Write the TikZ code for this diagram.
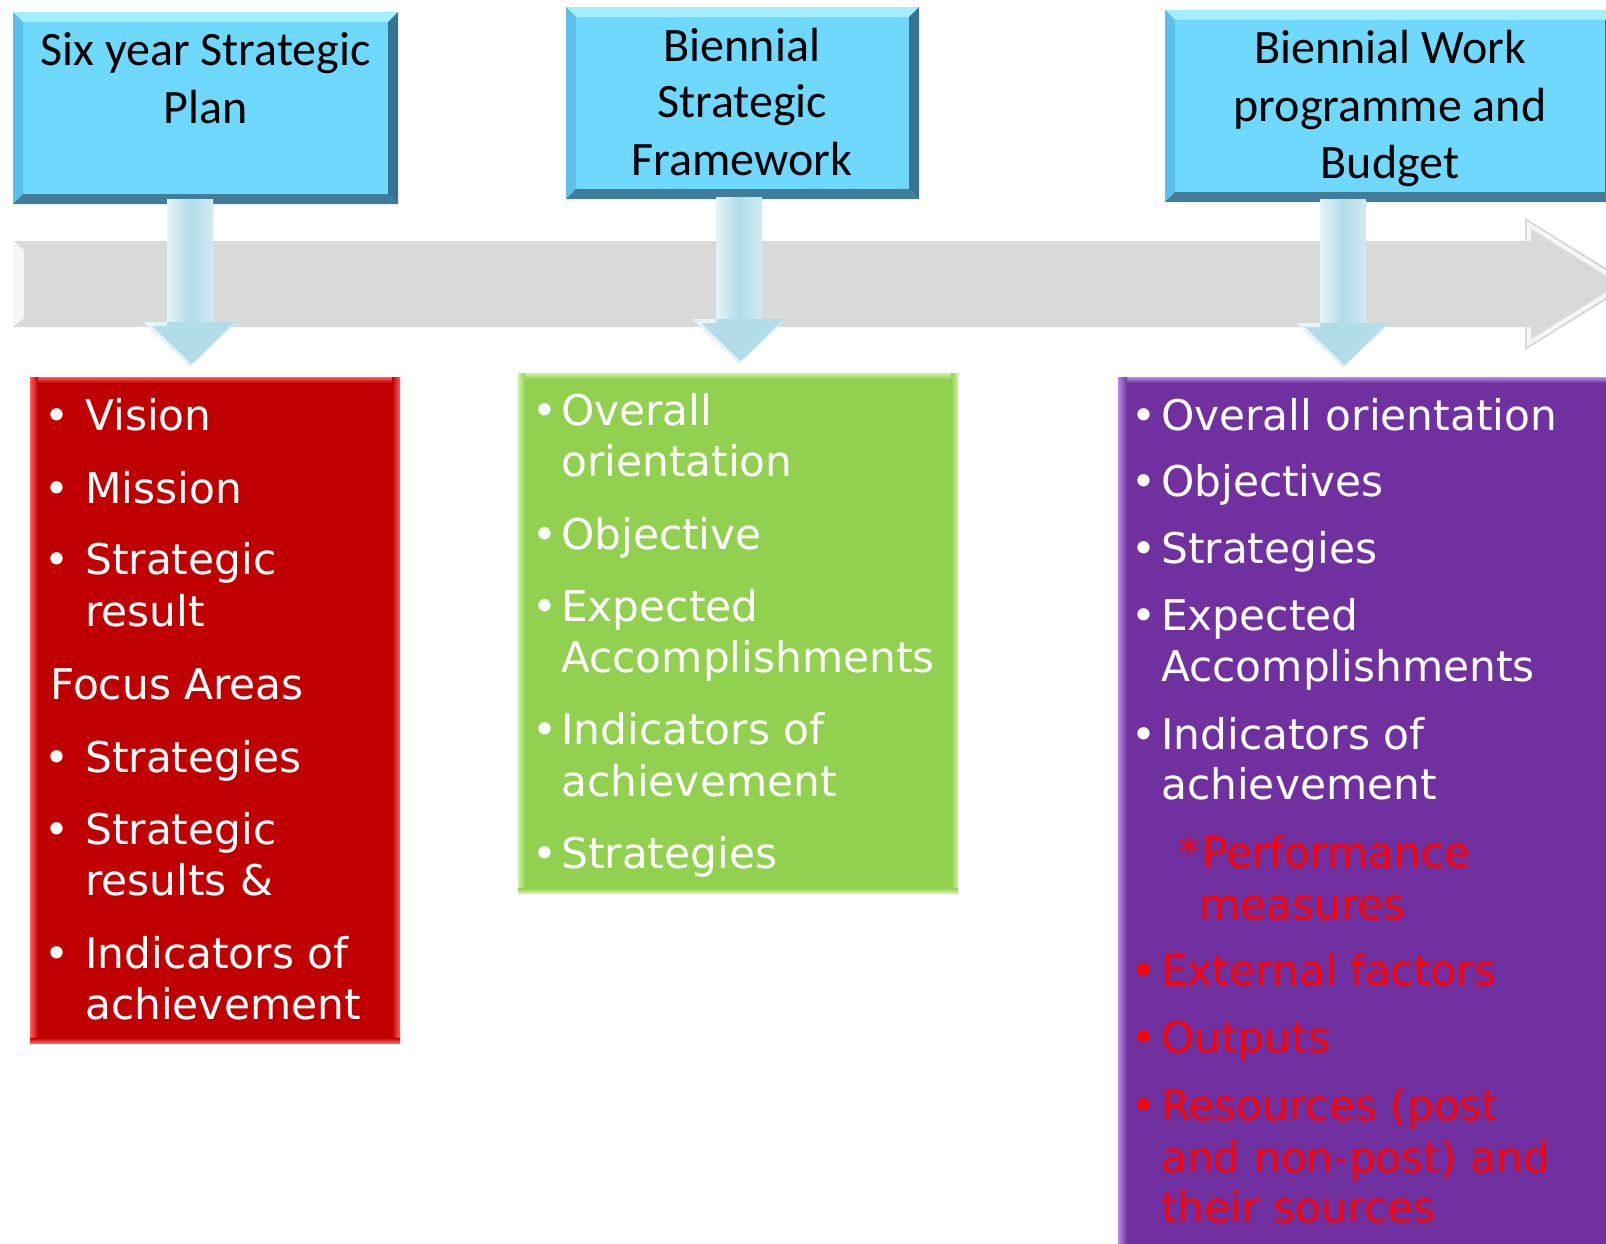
\documentclass[tikz,border=0pt]{standalone}
\usepackage{fontspec}
\newfontfamily\bodyfnt{DejaVu Sans}
\newfontfamily\headfnt{Carlito}
\usetikzlibrary{calc}
\newcommand\bodyset{\bodyfnt\fontsize{42.3}{50}\selectfont}
\newcommand\headset{\headfnt\fontsize{48}{58}\selectfont}
\definecolor{hface}{RGB}{110,216,253}
\definecolor{hbtop}{RGB}{165,238,255}
\definecolor{hbleft}{RGB}{92,192,232}
\definecolor{hbright}{RGB}{55,115,145}
\definecolor{hbbot}{RGB}{65,125,155}
\definecolor{grayarr}{RGB}{217,217,217}
\definecolor{grayhi}{RGB}{246,246,246}
\definecolor{dac}{RGB}{178,220,232}
\definecolor{dalt}{RGB}{228,244,249}
\definecolor{redbox}{RGB}{192,0,0}
\definecolor{redlt}{RGB}{255,95,95}
\definecolor{greenbox}{RGB}{146,208,80}
\definecolor{greenlt}{RGB}{205,242,165}
\definecolor{purplebox}{RGB}{112,48,160}
\definecolor{purplelt}{RGB}{185,140,230}
\definecolor{redtxt}{RGB}{255,0,0}
\newcommand\hbev[1]{%
 \fill[hbtop] (#1.north west) -- (#1.north east) -- ($(#1.north east)+(-10,10)$) -- ($(#1.north west)+(10,10)$) -- cycle;
 \fill[hbleft] (#1.north west) -- ($(#1.north west)+(10,10)$) -- ($(#1.south west)+(10,-10)$) -- (#1.south west) -- cycle;
 \fill[hbright] (#1.north east) -- ($(#1.north east)+(-10,10)$) -- ($(#1.south east)+(-10,-10)$) -- (#1.south east) -- cycle;
 \fill[hbbot] (#1.south west) -- ($(#1.south west)+(10,-10)$) -- ($(#1.south east)+(-10,-10)$) -- (#1.south east) -- cycle;}
\newcommand\dnarr[2]{%
 \shade[left color=dalt, right color=dalt!60!dac, middle color=dac] ($(#1)+(-23,0)$) rectangle ($(#2)+(23,-44)$);
 \fill[dac] ($(#2)+(-47,-44)$) -- (#2) -- ($(#2)+(47,-44)$) -- cycle;
 \fill[dalt] ($(#2)+(-47,-44)$) -- ($(#2)+(-23,-44)$) -- ($(#2)+(-23,-40)$) -- ($(#2)+(-38,-40)$) -- ($(#2)+(0,-3)$) -- (#2) -- cycle;
 \fill[dalt!70!dac] ($(#2)+(-4,-3)$) -- ($(#2)+(4,-3)$) -- ($(#2)+(40,-40)$) -- ($(#2)+(47,-44)$) -- (#2) -- cycle;}
\newcommand\cbev[4]{% name, light, base, side width
 \shade[top color=#2, bottom color=#3] (#1.north west) rectangle ($(#1.north east)+(0,6)$);
 \shade[left color=#2, right color=#3] (#1.north west) rectangle ($(#1.south west)+(#4,0)$);}
\tikzset{
 hbox/.style={rectangle, fill=hface, inner sep=0, outer sep=0},
 cbox/.style={rectangle, inner sep=0, outer sep=0},
 bt/.style={anchor=base west, inner sep=0, font=\bodyset, text=white},
 bu/.style={anchor=base, inner sep=0, font=\bodyset, text=white},
 ht/.style={anchor=base, inner sep=0, font=\headset, text=black},
}
\begin{document}
\begin{tikzpicture}[x=1pt,y=-1pt]
\useasboundingbox (0,0) rectangle (1606,1243);
\clip (0,0) rectangle (1606,1243);
\fill[white] (0,0) rectangle (1606,1243);
% timeline arrow
\fill[grayarr] (13,241) -- (1525,241) -- (1525,218) -- (1632,284) -- (1525,350) -- (1525,327) -- (13,327) -- cycle;
\fill[grayhi] (13,241) -- (24,250) -- (24,318) -- (13,327) -- cycle;
\draw[grayhi, line width=4] (1529,241) -- (1529,225) -- (1620,282);
\draw[grayhi, line width=4] (1529,327) -- (1529,343) -- (1620,286);
% header boxes
\node[hbox, minimum width=385, minimum height=192] (h1) at (205.5,108) {};
\node[hbox, minimum width=353, minimum height=192] (h2) at (742.5,103) {};
\node[hbox, minimum width=450, minimum height=192] (h3) at (1390,106) {};
\hbev{h1}\hbev{h2}\hbev{h3}
\node[ht] (t1a) at (205.5,65) {Six year Strategic};
\node[ht] (t1b) at (205.5,123) {Plan};
\node[ht] (t2a) at (742,61) {Biennial};
\node[ht] (t2b) at (742,117) {Strategic};
\node[ht] (t2c) at (742,175) {Framework};
\node[ht] (t3a) at (1390,63) {Biennial Work};
\node[ht] (t3b) at (1390,121) {programme and};
\node[ht] (t3c) at (1390,178) {Budget};
% content boxes
\node[cbox, fill=redbox, minimum width=370, minimum height=666] (c1) at (215,710) {};
\node[cbox, fill=greenbox, minimum width=440, minimum height=520] (c2) at (738,633) {};
\node[cbox, fill=purplebox, minimum width=510, minimum height=890] (c3) at (1373,822) {};
\cbev{c1}{redlt}{redbox}{8}
\shade[left color=redbox, right color=redlt] ($(c1.north east)+(-8,0)$) rectangle (c1.south east);
\shade[top color=redbox, bottom color=redlt] ($(c1.south west)+(0,-5)$) rectangle (c1.south east);
\cbev{c2}{greenlt}{greenbox}{7}
\shade[left color=greenbox, right color=greenlt] ($(c2.north east)+(-7,0)$) rectangle (c2.south east);
\shade[top color=greenbox, bottom color=greenlt] ($(c2.south west)+(0,-5)$) rectangle (c2.south east);
\cbev{c3}{purplelt}{purplebox}{9}
% down arrows
\coordinate (a1s) at (190,199); \coordinate (a1t) at (190,366);
\coordinate (a2s) at (739,197); \coordinate (a2t) at (739,363);
\coordinate (a3s) at (1343,199); \coordinate (a3t) at (1343,367);
\dnarr{a1s}{a1t}
\dnarr{a2s}{a2t}
\dnarr{a3s}{a3t}
% red box text
\foreach \y/\t [count=\i] in {430/Vision, 503/Mission, 574/Strategic, 626/result, 772/Strategies, 844/Strategic, 895/results \&, 968/Indicators of, 1019/achievement}
  \node[bt] (r\i) at (85,\y) {\t};
\node[bt] (rfa) at (50,699) {Focus Areas};
\foreach \y [count=\i] in {430, 503, 574, 772, 844, 968}
  \node[bu] (rb\i) at (57,\y) {•};
% green box text
\foreach \y/\t [count=\i] in {425/Overall, 476/orientation, 549/Objective, 621/Expected, 672/Accomplishments, 744/Indicators of, 796/achievement, 868/Strategies}
  \node[bt] (g\i) at (561,\y) {\t};
\foreach \y [count=\i] in {425, 549, 621, 744, 868}
  \node[bu] (gb\i) at (545,\y) {•};
% purple box text
\foreach \y/\t [count=\i] in {430/Overall orientation, 496/Objectives, 563/Strategies, 630/Expected, 681/Accomplishments, 749/Indicators of, 799/achievement}
  \node[bt] (p\i) at (1161,\y) {\t};
\foreach \y [count=\i] in {430, 496, 563, 630, 749}
  \node[bu] (pb\i) at (1144,\y) {•};
\node[bt, text=redtxt] (q1) at (1178,867) {*\kern3pt Performance};
\node[bt, text=redtxt] (q2) at (1199,919) {measures};
\foreach \y/\t [count=\i] in {985/External factors, 1052/Outputs, 1120/Resources (post, 1172/and non-post) and, 1222/their sources}
  \node[bt, text=redtxt] (s\i) at (1161,\y) {\t};
\foreach \y [count=\i] in {985, 1052, 1120}
  \node[bu, text=redtxt] (sb\i) at (1144,\y) {•};
\end{tikzpicture}
\end{document}
